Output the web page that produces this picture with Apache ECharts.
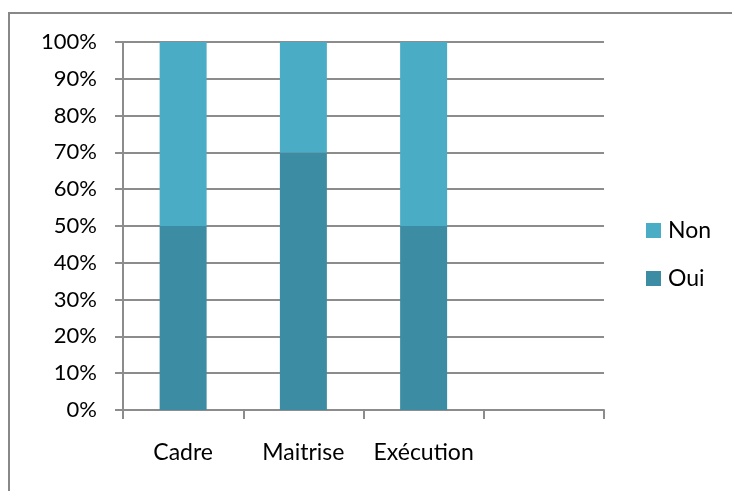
<!DOCTYPE html>
<html>
<head>
<meta charset="utf-8">
<script src="https://cdn.jsdelivr.net/npm/echarts@6/dist/echarts.min.js"></script>
<style>
  html, body { margin: 0; padding: 0; background: #fff; }
  #chart { width: 732px; height: 491px; }
</style>
</head>
<body>
<div id="chart"></div>
<script>
// Staff categories (fourth slot left empty on purpose)
const categories = ['Cadre', 'Maitrise', 'Exécution', ''];
// Share of answers, in percent
const ouiValues = [50, 70, 50, null];
const nonValues = [50, 30, 50, null];
// Y axis range
const yMin = 0, yMax = 100, yStep = 10;

const FONT = 'Lato';
const GRID_GREY = '#8c8c8c';

const chart = echarts.init(document.getElementById('chart'), null, { renderer: 'canvas' });

chart.setOption({
  animation: false,
  backgroundColor: '#ffffff',
  textStyle: { fontFamily: FONT },
  graphic: [{
    type: 'rect',
    shape: { x: 9, y: 13, width: 800, height: 600 },
    style: { fill: 'none', stroke: '#888888', lineWidth: 2 },
    silent: true
  }],
  grid: { left: 123, right: 128, top: 42, bottom: 81, containLabel: false },
  legend: {
    orient: 'vertical',
    left: 646,
    top: 219,
    padding: 0,
    itemWidth: 15,
    itemHeight: 15,
    itemGap: 25,
    icon: 'rect',
    data: ['Non', 'Oui'],
    textStyle: { fontFamily: FONT, fontSize: 23, color: '#000', padding: [0, 0, 0, 2] }
  },
  xAxis: {
    type: 'category',
    data: categories,
    boundaryGap: true,
    axisLine: { lineStyle: { color: GRID_GREY, width: 2 } },
    axisTick: { show: true, interval: 0, length: 9, alignWithLabel: false, lineStyle: { color: GRID_GREY, width: 2 } },
    axisLabel: { interval: 0, hideOverlap: false, margin: 31, fontFamily: FONT, fontSize: 23, color: '#000' },
    splitLine: { show: false }
  },
  yAxis: {
    type: 'value',
    min: yMin,
    max: yMax,
    interval: yStep,
    axisLine: { show: true, lineStyle: { color: GRID_GREY, width: 2 } },
    axisTick: { show: true, length: 8, lineStyle: { color: GRID_GREY, width: 2 } },
    axisLabel: { formatter: '{value}%', margin: 26, fontFamily: FONT, fontSize: 22, color: '#000' },
    splitLine: { show: true, lineStyle: { color: GRID_GREY, width: 2 } }
  },
  series: [
    {
      name: 'Oui',
      type: 'bar',
      stack: 'total',
      barWidth: 47,
      data: ouiValues,
      itemStyle: { color: '#3c8ca4' }
    },
    {
      name: 'Non',
      type: 'bar',
      stack: 'total',
      barWidth: 47,
      data: nonValues,
      itemStyle: { color: '#4bacc6' }
    }
  ]
});
</script>
</body>
</html>
